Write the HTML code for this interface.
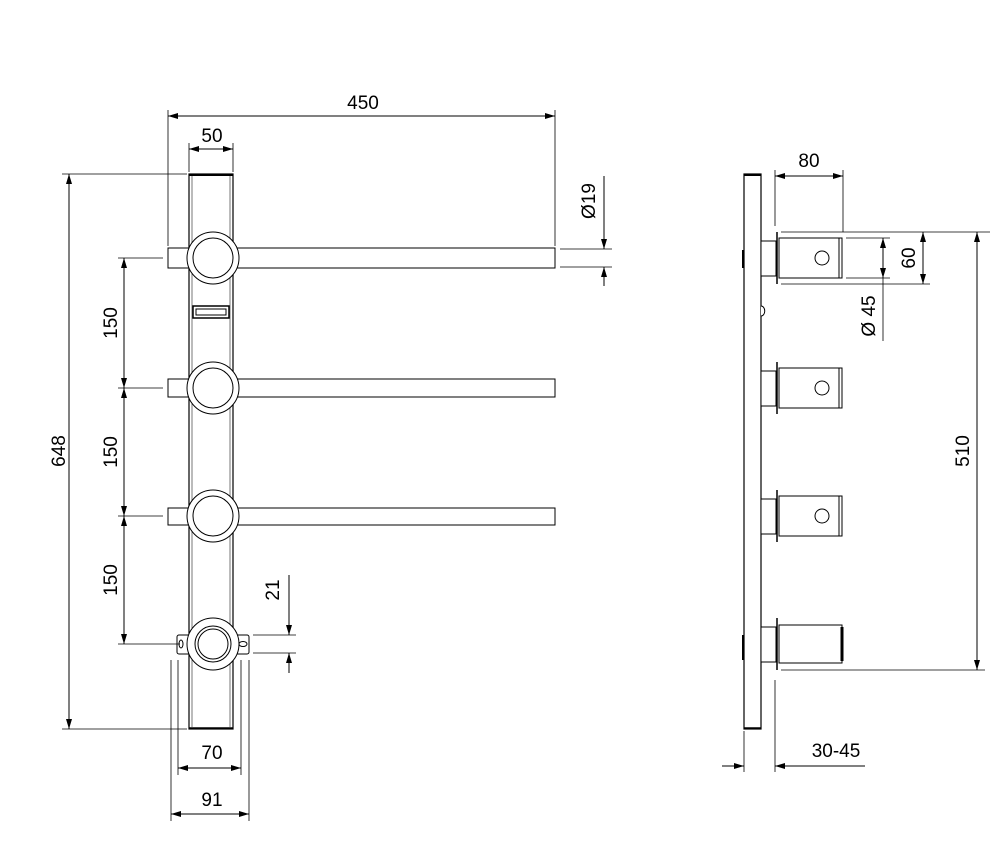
<!DOCTYPE html>
<html><head><meta charset="utf-8"><style>
html,body{margin:0;padding:0;background:#fff;}
svg{display:block}
text{font-family:"Liberation Sans",sans-serif;font-size:19px;fill:#000}
</style></head><body>
<svg width="1000" height="846" viewBox="0 0 1000 846" xmlns="http://www.w3.org/2000/svg">
<defs>
<marker id="a" viewBox="0 0 10 6" refX="10" refY="3" markerWidth="10" markerHeight="6" orient="auto-start-reverse" markerUnits="userSpaceOnUse"><path d="M0,0L10,3L0,6z" fill="#000"/></marker>
</defs>
<g stroke="#000" fill="none" stroke-width="1">
<!-- LEFT VIEW -->
<!-- rail -->
<rect x="189" y="174" width="44" height="555" fill="#fff" stroke-width="1.2"/>
<line x1="192" y1="176" x2="192" y2="727" stroke="#777"/>
<line x1="230" y1="176" x2="230" y2="727" stroke="#777"/>
<line x1="189" y1="175" x2="233" y2="175" stroke-width="2"/>
<line x1="189" y1="728" x2="233" y2="728" stroke-width="1.5"/>
<!-- slot -->
<rect x="193" y="306" width="36" height="12" stroke-width="1.5" fill="#fff"/>
<rect x="196" y="309" width="30" height="6"/>
<!-- arms -->
<g fill="#fff">
<rect x="168" y="248" width="387" height="20"/>
<circle cx="213" cy="258" r="26"/>
<circle cx="213" cy="258" r="20"/>
<rect x="168" y="379" width="387" height="18"/>
<circle cx="213" cy="388" r="26"/>
<circle cx="213" cy="388" r="20"/>
<rect x="168" y="508" width="387" height="17"/>
<circle cx="213" cy="516" r="26"/>
<circle cx="213" cy="516" r="20"/>
<!-- bottom -->
<rect x="177" y="635" width="72" height="19" rx="2"/>
<circle cx="213" cy="644" r="26"/>
<circle cx="213" cy="644" r="18"/>
<circle cx="213" cy="644" r="15"/>
</g>
<ellipse cx="181" cy="644" rx="2" ry="4"/>
<ellipse cx="243" cy="644" rx="4" ry="2.5"/>
<!-- dim 450 -->
<line x1="168" y1="110" x2="168" y2="246" stroke-width="0.8"/>
<line x1="555" y1="110" x2="555" y2="246" stroke-width="0.8"/>
<line x1="168" y1="116" x2="555" y2="116" marker-start="url(#a)" marker-end="url(#a)"/>
<!-- dim 50 -->
<line x1="189" y1="143" x2="189" y2="172" stroke-width="0.8"/>
<line x1="233" y1="143" x2="233" y2="172" stroke-width="0.8"/>
<line x1="189" y1="149" x2="233" y2="149" marker-start="url(#a)" marker-end="url(#a)"/>
<!-- dim 648 -->
<line x1="62" y1="174" x2="187" y2="174" stroke-width="0.8"/>
<line x1="62" y1="729" x2="187" y2="729" stroke-width="0.8"/>
<line x1="69" y1="174" x2="69" y2="729" marker-start="url(#a)" marker-end="url(#a)"/>
<!-- 150s -->
<line x1="118" y1="258" x2="163" y2="258" stroke-width="0.8"/>
<line x1="118" y1="388" x2="163" y2="388" stroke-width="0.8"/>
<line x1="118" y1="516" x2="163" y2="516" stroke-width="0.8"/>
<line x1="118" y1="644" x2="180" y2="644" stroke-width="0.8"/>
<line x1="124" y1="258" x2="124" y2="388" marker-start="url(#a)" marker-end="url(#a)"/>
<line x1="124" y1="388" x2="124" y2="516" marker-start="url(#a)" marker-end="url(#a)"/>
<line x1="124" y1="516" x2="124" y2="644" marker-start="url(#a)" marker-end="url(#a)"/>
<!-- 21 -->
<line x1="253" y1="635" x2="296" y2="635" stroke-width="0.8"/>
<line x1="253" y1="653" x2="296" y2="653" stroke-width="0.8"/>
<line x1="289" y1="575" x2="289" y2="635" marker-end="url(#a)"/>
<line x1="289" y1="673" x2="289" y2="653" marker-end="url(#a)"/>
<!-- Ø19 -->
<line x1="560" y1="249" x2="612" y2="249" stroke-width="0.8"/>
<line x1="560" y1="267" x2="612" y2="267" stroke-width="0.8"/>
<line x1="604" y1="176" x2="604" y2="249" marker-end="url(#a)"/>
<line x1="604" y1="286" x2="604" y2="267" marker-end="url(#a)"/>
<!-- 70 / 91 -->
<line x1="178" y1="660" x2="178" y2="775" stroke-width="0.8"/>
<line x1="241" y1="660" x2="241" y2="775" stroke-width="0.8"/>
<line x1="171" y1="660" x2="171" y2="821" stroke-width="0.8"/>
<line x1="249" y1="660" x2="249" y2="821" stroke-width="0.8"/>
<line x1="178" y1="768" x2="241" y2="768" marker-start="url(#a)" marker-end="url(#a)"/>
<line x1="171" y1="814" x2="249" y2="814" marker-start="url(#a)" marker-end="url(#a)"/>

<!-- RIGHT VIEW -->
<rect x="744" y="174" width="17" height="555" fill="#fff" stroke-width="1.2"/>
<line x1="744" y1="175" x2="761" y2="175" stroke-width="2"/>
<line x1="744" y1="728" x2="761" y2="728" stroke-width="1.5"/>
<line x1="743" y1="250" x2="743" y2="268" stroke-width="2"/>
<line x1="743" y1="635" x2="743" y2="660" stroke-width="2"/>
<path d="M761,306 a3,4 0 0 1 0,10" fill="#fff"/>
<g fill="#fff">
<rect x="761" y="241" width="15" height="35"/>
<rect x="779" y="238" width="63" height="40"/>
<circle cx="822" cy="258" r="7"/>
<rect x="761" y="371" width="15" height="35"/>
<rect x="779" y="368" width="63" height="40"/>
<circle cx="822" cy="388" r="7"/>
<rect x="761" y="499" width="15" height="35"/>
<rect x="779" y="496" width="63" height="40"/>
<circle cx="822" cy="516" r="7"/>
<rect x="761" y="627" width="15" height="35"/>
<rect x="779" y="625" width="63" height="38"/>
</g>
<line x1="839" y1="238" x2="839" y2="278"/>
<line x1="839" y1="368" x2="839" y2="408"/>
<line x1="839" y1="496" x2="839" y2="536"/>
<line x1="842" y1="627" x2="842" y2="661" stroke-width="3"/>
<line x1="777" y1="232" x2="777" y2="284" stroke-width="1.5"/>
<line x1="777" y1="362" x2="777" y2="414" stroke-width="1.5"/>
<line x1="777" y1="490" x2="777" y2="542" stroke-width="1.5"/>
<line x1="777" y1="618" x2="777" y2="670" stroke-width="1.5"/>
<!-- 80 -->
<line x1="775" y1="170" x2="775" y2="226" stroke-width="0.8"/>
<line x1="843" y1="170" x2="843" y2="232" stroke-width="0.8"/>
<line x1="775" y1="176" x2="843" y2="176" marker-start="url(#a)" marker-end="url(#a)"/>
<!-- 60 / 510 ext -->
<line x1="781" y1="232" x2="990" y2="232" stroke-width="0.8"/>
<line x1="781" y1="284" x2="930" y2="284" stroke-width="0.8"/>
<line x1="781" y1="670" x2="985" y2="670" stroke-width="0.8"/>
<line x1="923" y1="232" x2="923" y2="284" marker-start="url(#a)" marker-end="url(#a)"/>
<!-- Ø45 -->
<line x1="846" y1="238" x2="890" y2="238" stroke-width="0.8"/>
<line x1="846" y1="278" x2="890" y2="278" stroke-width="0.8"/>
<line x1="883" y1="238" x2="883" y2="278" marker-start="url(#a)" marker-end="url(#a)"/>
<line x1="883" y1="278" x2="883" y2="341" stroke-width="0.8"/>
<!-- 510 -->
<line x1="977" y1="232" x2="977" y2="670" marker-start="url(#a)" marker-end="url(#a)"/>
<!-- 30-45 -->
<line x1="744" y1="731" x2="744" y2="772" stroke-width="0.8"/>
<line x1="775" y1="680" x2="775" y2="772" stroke-width="0.8"/>
<line x1="722" y1="766" x2="744" y2="766" marker-end="url(#a)"/>
<line x1="865" y1="766" x2="775" y2="766" marker-end="url(#a)"/>
</g>
<g>
<text x="363" y="109" text-anchor="middle">450</text>
<text x="212" y="142" text-anchor="middle">50</text>
<text x="212" y="759" text-anchor="middle">70</text>
<text x="212" y="806" text-anchor="middle">91</text>
<text transform="translate(65,451) rotate(-90)" text-anchor="middle">648</text>
<text transform="translate(117,323) rotate(-90)" text-anchor="middle">150</text>
<text transform="translate(117,452) rotate(-90)" text-anchor="middle">150</text>
<text transform="translate(117,580) rotate(-90)" text-anchor="middle">150</text>
<text transform="translate(279,590) rotate(-90)" text-anchor="middle">21</text>
<text transform="translate(595,201) rotate(-90)" text-anchor="middle">Ø19</text>
<text x="809" y="167" text-anchor="middle">80</text>
<text transform="translate(915,258) rotate(-90)" text-anchor="middle">60</text>
<text transform="translate(875,316) rotate(-90)" text-anchor="middle">Ø 45</text>
<text transform="translate(969,451) rotate(-90)" text-anchor="middle">510</text>
<text x="836" y="757" text-anchor="middle">30-45</text>
</g>
</svg>
</body></html>
